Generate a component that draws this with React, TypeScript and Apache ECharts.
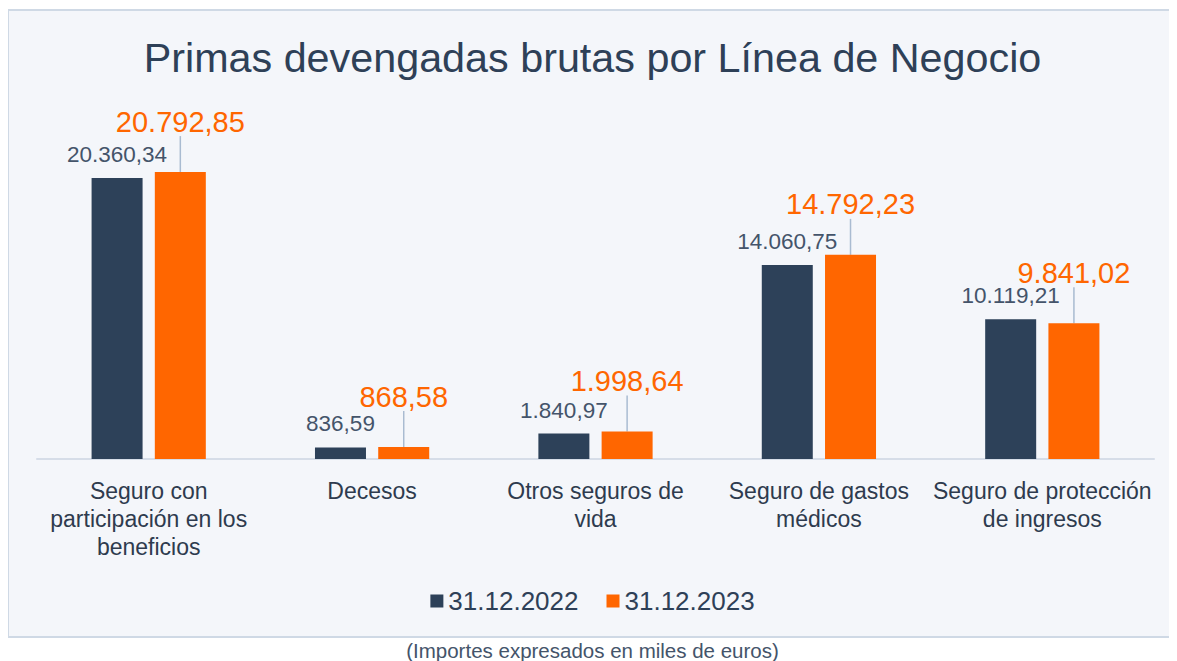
import React, { useEffect, useRef } from "react";
import * as echarts from "echarts";

const categories = [
  "Seguro con\nparticipación en los\nbeneficios",
  "Decesos",
  "Otros seguros de\nvida",
  "Seguro de gastos\nmédicos",
  "Seguro de protección\nde ingresos",
];
const values2022 = [20360.34, 836.59, 1840.97, 14060.75, 10119.21];
const values2023 = [20792.85, 868.58, 1998.64, 14792.23, 9841.02];
const seriesNames = ["31.12.2022", "31.12.2023"];

const DARK = "#2d4159";
const ORANGE = "#ff6600";
const FONT = "Liberation Sans";

const fmt = (v: number) => {
  const [i, d] = v.toFixed(2).split(".");
  return i.replace(/\B(?=(\d{3})+(?!\d))/g, ".") + "," + d;
};

export default function App() {
  const ref = useRef<HTMLDivElement>(null);
  useEffect(() => {
    const chart = echarts.init(ref.current!, null, { renderer: "svg" });
    chart.setOption({
      animation: false,
      textStyle: { fontFamily: FONT },
      graphic: [
        {
          type: "rect",
          z: -10,
          shape: { x: 0, y: 2, width: 1200, height: 627 },
          style: { fill: "#f4f6fa", stroke: "#cfd9e5", lineWidth: 2 },
        },
        {
          type: "text",
          left: "center",
          top: 632,
          style: {
            text: "(Importes expresados en miles de euros)",
            fill: "#44546a",
            font: `20.5px ${FONT}`,
          },
        },
      ],
      title: {
        text: "Primas devengadas brutas por Línea de Negocio",
        left: "center",
        top: 24,
        textStyle: { color: "#2e4057", fontSize: 41.3, fontWeight: "normal", fontFamily: FONT },
      },
      legend: {
        data: seriesNames,
        bottom: 42,
        left: "center",
        icon: "rect",
        itemWidth: 13,
        itemHeight: 13,
        itemGap: 28,
        textStyle: { color: "#2e4057", fontSize: 26, fontFamily: FONT },
      },
      grid: { left: 29, right: 23, top: 106, bottom: 202, containLabel: false },
      xAxis: {
        type: "category",
        data: categories,
        axisLine: { lineStyle: { color: "#d6dde8", width: 2 } },
        axisTick: { show: false },
        axisLabel: {
          color: "#2e3b4e",
          fontSize: 23,
          lineHeight: 28,
          margin: 18,
          interval: 0,
          fontFamily: FONT,
        },
      },
      yAxis: {
        type: "value",
        min: 0,
        max: 25000,
        show: false,
        splitLine: { show: false },
      },
      series: [
        {
          name: seriesNames[0],
          type: "bar",
          data: values2022,
          barWidth: 51,
          barGap: "24%",
          itemStyle: { color: DARK },
          label: {
            show: true,
            position: "top",
            distance: 12,
            color: "#44546a",
            fontSize: 22.5,
            fontFamily: FONT,
            formatter: (p: any) => fmt(p.value),
          },
        },
        {
          name: seriesNames[1],
          type: "bar",
          data: values2023,
          barWidth: 51,
          itemStyle: { color: ORANGE },
          label: {
            show: true,
            position: "top",
            distance: 3,
            color: ORANGE,
            fontSize: 29,
            fontFamily: FONT,
            formatter: (p: any) => fmt(p.value),
          },
          labelLayout: { dy: -33 },
          labelLine: { show: true, lineStyle: { color: "#a9bbd1", width: 1.5 } },
        },
      ],
    });
    return () => chart.dispose();
  }, []);
  return <div ref={ref} style={{ width: 1169, height: 653 }} />;
}
